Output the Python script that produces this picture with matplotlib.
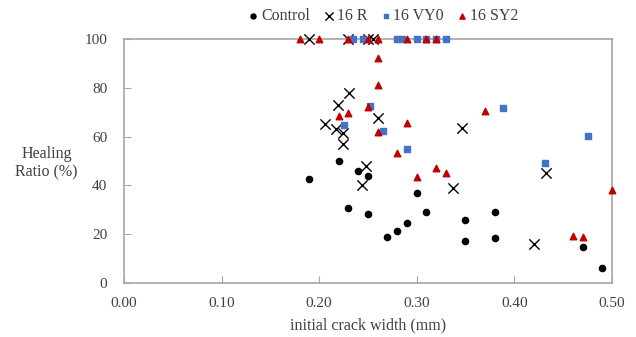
import matplotlib.pyplot as plt

plt.rcParams['font.family'] = ['Liberation Serif', 'DejaVu Serif']

# data
control_x = [0.19, 0.22, 0.24, 0.25, 0.23, 0.25, 0.27, 0.28, 0.29, 0.30, 0.31,
             0.35, 0.35, 0.38, 0.38, 0.47, 0.49]
control_y = [42.5, 50, 45.8, 44, 30.6, 28.2, 18.7, 21.5, 24.5, 36.9, 29.1,
             26, 17.4, 29, 18.6, 14.8, 6.3]

r_x = [0.19, 0.23, 0.25, 0.255, 0.231, 0.219, 0.206, 0.217, 0.224, 0.224,
       0.26, 0.248, 0.244, 0.346, 0.337, 0.433, 0.42]
r_y = [100, 100, 100, 100, 77.8, 72.9, 65.1, 63.2, 61.5, 57.2,
       67.7, 48, 40.2, 63.5, 39.1, 45.3, 16]

vy0_x = [0.235, 0.245, 0.28, 0.285, 0.30, 0.31, 0.32, 0.33,
         0.225, 0.252, 0.265, 0.29, 0.388, 0.476, 0.431]
vy0_y = [100, 100, 100, 100, 100, 100, 100, 100,
         64.8, 72.5, 62.5, 55.1, 71.8, 60.3, 49.4]

sy2_x = [0.18, 0.20, 0.23, 0.25, 0.26, 0.29, 0.31, 0.32,
         0.26, 0.26, 0.22, 0.23, 0.25, 0.26, 0.29, 0.28, 0.30, 0.32, 0.33,
         0.37, 0.46, 0.47, 0.50]
sy2_y = [100, 100, 100, 100, 100, 100, 100, 100,
         92.3, 81, 68.3, 69.7, 72.1, 61.8, 65.8, 53.4, 43.4, 47.1, 45.3,
         70.6, 19.4, 19, 38]

grey = '#a6a6a6'
txt = '#404040'

fig = plt.figure(figsize=(6.36, 3.37), dpi=100)
ax = fig.add_axes([0.195, 0.160, 0.767, 0.724])

ax.scatter(control_x, control_y, s=20, marker='o', color='black', label='Control', clip_on=False, zorder=3)
ax.scatter(r_x, r_y, s=55, marker='x', color='black', linewidths=1.0, label='16 R', clip_on=False, zorder=3)
ax.scatter(vy0_x, vy0_y, s=20, marker='s', color='#4472C4', label='16 VY0', clip_on=False, zorder=3)
ax.scatter(sy2_x, sy2_y, s=22, marker='^', color='#C00000', label='16 SY2', clip_on=False, zorder=4)

ax.set_xlim(0, 0.5)
ax.set_ylim(0, 100)
ax.set_xticks([0, 0.1, 0.2, 0.3, 0.4, 0.5])
ax.set_xticklabels(['0.00', '0.10', '0.20', '0.30', '0.40', '0.50'])
ax.set_yticks([0, 20, 40, 60, 80, 100])

for s in ax.spines.values():
    s.set_color(grey)
    s.set_linewidth(1.2)
ax.tick_params(direction='in', color=grey, length=5, labelsize=11, labelcolor=txt)
ax.tick_params(axis='x', pad=10)
ax.tick_params(axis='y', pad=12)

ax.set_xlabel('initial crack width (mm)', fontsize=11.5, color=txt, labelpad=5)
fig.text(0.073, 0.516, 'Healing\nRatio (%)', ha='center', va='center',
         fontsize=11.5, color=txt, linespacing=1.15)

fig.legend(loc='center', bbox_to_anchor=(0.604, 0.953), ncol=4, frameon=False,
           fontsize=11.5, handlelength=0.5, handletextpad=0.25, columnspacing=0.9,
           markerscale=0.8, labelcolor=txt)

fig.savefig('out.png', dpi=100)
